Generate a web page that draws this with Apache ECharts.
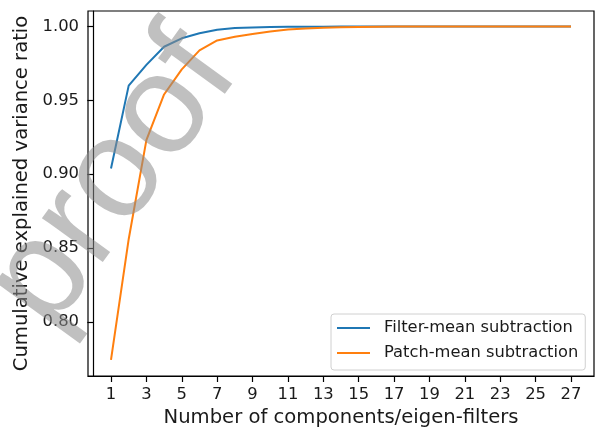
<!DOCTYPE html>
<html>
<head>
<meta charset="utf-8">
<script src="https://cdn.jsdelivr.net/npm/echarts@6/dist/echarts.min.js"></script>
<style>
html,body{margin:0;padding:0;background:#fff;}
#chart{width:595px;height:429px;}
</style>
</head>
<body>
<div id="chart"></div>
<script>
const components = [1,2,3,4,5,6,7,8,9,10,11,12,13,14,15,16,17,18,19,20,21,22,23,24,25,26,27];
const filterMean = [0.9039,0.9600,0.9740,0.9863,0.9920,0.9954,0.9978,0.9990,0.9994,0.9996,0.9998,0.9999,0.9999,1.0000,1.0000,1.0000,1.0000,1.0000,1.0000,1.0000,1.0000,1.0000,1.0000,1.0000,1.0000,1.0000,1.0000];
const patchMean = [0.7743,0.8560,0.9231,0.9540,0.9710,0.9838,0.9906,0.9930,0.9950,0.9966,0.9979,0.9987,0.9992,0.9995,0.9997,0.9999,1.0000,1.0000,1.0000,1.0000,1.0000,1.0000,1.0000,1.0000,1.0000,1.0000,1.0000];
const xTicks = [1,3,5,7,9,11,13,15,17,19,21,23,25,27];
const yTicks = [0.80,0.85,0.90,0.95,1.00];
const seriesNames = ['Filter-mean subtraction','Patch-mean subtraction'];
const xTitle = 'Number of components/eigen-filters';
const yTitle = 'Cumulative explained variance ratio';
const watermark = 'proof';

const font = 'DejaVu Sans';
const chart = echarts.init(document.getElementById('chart'), null, {renderer:'canvas'});
chart.setOption({
  animation:false,
  backgroundColor:'#fff',
  grid:{left:88,right:1,top:11,bottom:53,outerBoundsMode:'none',containLabel:false,show:true,borderColor:'#000',borderWidth:1.2,backgroundColor:'transparent'},
  xAxis:{
    type:'value',min:-0.3,max:28.3,
    name:xTitle,nameLocation:'middle',nameGap:32,
    nameTextStyle:{fontFamily:font,fontSize:19.6,color:'#1a1a1a'},
    axisLine:{show:true,lineStyle:{color:'#000',width:1.2}},
    axisTick:{show:true,length:6,lineStyle:{color:'#000',width:1.2},customValues:xTicks},
    axisLabel:{fontFamily:font,fontSize:16.4,color:'#1a1a1a',margin:11,customValues:xTicks,formatter:v=>String(v)},
    splitLine:{show:false}
  },
  yAxis:{
    type:'value',min:0.7634,max:1.0105,
    name:yTitle,nameLocation:'middle',nameGap:52,nameRotate:90,
    nameTextStyle:{fontFamily:font,fontSize:19.6,color:'#1a1a1a'},
    axisLine:{show:true,lineStyle:{color:'#000',width:1.2}},
    axisTick:{show:true,length:6,lineStyle:{color:'#000',width:1.2},customValues:yTicks},
    axisLabel:{fontFamily:font,fontSize:16.4,color:'#1a1a1a',margin:9,customValues:yTicks,formatter:v=>v.toFixed(2)},
    splitLine:{show:false}
  },
  legend:{
    orient:'vertical',left:331,top:314,
    backgroundColor:'#fff',borderColor:'#d0d0d0',borderWidth:1,borderRadius:3,
    padding:[6,7,9,6],itemGap:9,itemWidth:33,itemHeight:2,icon:'rect',
    textStyle:{fontFamily:font,fontSize:16.3,color:'#1a1a1a',lineHeight:16,padding:[0,0,0,9]},
    data:seriesNames
  },
  series:[
    {name:seriesNames[0],type:'line',data:components.map((c,i)=>[c,filterMean[i]]),symbol:'none',lineStyle:{color:'#1f77b4',width:2},itemStyle:{color:'#1f77b4'},z:3},
    {name:seriesNames[1],type:'line',data:components.map((c,i)=>[c,patchMean[i]]),symbol:'none',lineStyle:{color:'#ff7f0e',width:2},itemStyle:{color:'#ff7f0e'},z:3}
  ],
  graphic:[{
    type:'text',x:114,y:180,rotation:54*Math.PI/180,z:100,silent:true,
    style:{text:watermark,font:'142px "Liberation Sans"',fill:'rgba(140,140,140,0.55)',textAlign:'center',textVerticalAlign:'middle'}
  }]
});
</script>
</body>
</html>
